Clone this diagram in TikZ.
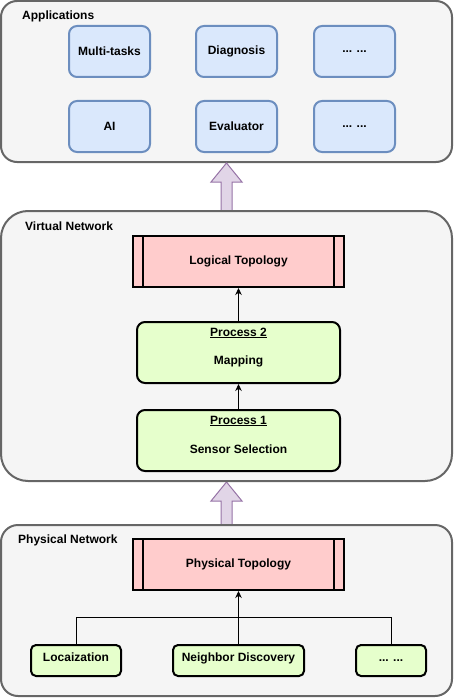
\documentclass[tikz,border=0pt]{standalone}
\usepackage{fontspec}
\setmainfont{Liberation Sans}
\usetikzlibrary{arrows.meta}

\definecolor{layerfill}{HTML}{F5F5F5}
\definecolor{layerdraw}{HTML}{666666}
\definecolor{appfill}{HTML}{DAE8FC}
\definecolor{appdraw}{HTML}{6C8EBF}
\definecolor{topofill}{HTML}{FFCCCC}
\definecolor{procfill}{HTML}{E6FFCC}
\definecolor{liftfill}{HTML}{E1D5E7}
\definecolor{liftdraw}{HTML}{9673A6}

\tikzset{
    layer/.style={draw=layerdraw, fill=layerfill, line width=2pt, inner sep=0pt, minimum width=451pt},
    layertitle/.style={anchor=west, inner sep=0pt},
    appbox/.style={draw=appdraw, fill=appfill, line width=2pt, rounded corners=8pt, minimum width=81pt, minimum height=51pt, inner sep=0pt},
    topobox/.style={draw, fill=topofill, line width=2pt, minimum width=211pt, minimum height=51pt, inner sep=0pt,
        path picture={
            \draw[line width=2pt] ([xshift=10pt]path picture bounding box.north west) -- ([xshift=10pt]path picture bounding box.south west);
            \draw[line width=2pt] ([xshift=-10pt]path picture bounding box.north east) -- ([xshift=-10pt]path picture bounding box.south east);
        }},
    procbox/.style={draw, fill=procfill, line width=2pt, rounded corners=8pt, minimum width=203pt, minimum height=61pt, inner sep=0pt},
    taskbox/.style={draw, fill=procfill, line width=2pt, rounded corners=5pt, minimum height=31pt, inner sep=0pt, text height=9pt, text depth=7pt},
    lift/.style={draw=liftdraw, fill=liftfill, line width=1pt},
    link/.style={line width=0.8pt, -{Stealth[length=7pt, width=6.5pt]}},
    wire/.style={line width=0.8pt}
}

\begin{document}
\begin{tikzpicture}[x=1pt, y=-1pt, font=\fontsize{12}{14}\selectfont\bfseries]
    \useasboundingbox (0,0) rectangle (453,698);

    % Applications
    \node[layer, minimum height=161pt, rounded corners=16pt] (apps) at (226.5, 81.5) {};
    \node[layertitle] (appstitle) at (22, 16) {Applications};
    \node[appbox] (multi) at (109.5, 51.5) {Multi-tasks};
    \node[appbox] (diag) at (236.5, 51.5) {Diagnosis};
    \node[appbox] (more1) at (354.5, 51.5) {... ...};
    \node[appbox] (ai) at (109.5, 126.5) {AI};
    \node[appbox] (eval) at (236.5, 126.5) {Evaluator};
    \node[appbox] (more2) at (354.5, 126.5) {... ...};

    % Lifting arrows between the layers
    \foreach \tip/\base in {163/211, 482/525} {
        \draw[lift] (221, \base) -- (221, \tip+19) -- (211, \tip+19) -- (226.5, \tip)
            -- (242, \tip+19) -- (232, \tip+19) -- (232, \base) -- cycle;
    }

    % Virtual Network
    \node[layer, minimum height=270pt, rounded corners=27pt] (virt) at (226.5, 346) {};
    \node[layertitle] (virttitle) at (25, 226) {Virtual Network};
    \node[topobox] (logic) at (238.5, 261.5) {Logical Topology};
    \node[procbox] (p2) at (238.5, 352.5) {};
    \node (p2title) at ([yshift=-12pt]p2.north) {\underline{Process 2}};
    \node (p2text) at ([yshift=-40pt]p2.north) {Mapping};
    \node[procbox] (p1) at (238.5, 440.5) {};
    \node (p1title) at ([yshift=-12pt]p1.north) {\underline{Process 1}};
    \node (p1text) at ([yshift=-40pt]p1.north) {Sensor Selection};
    \draw[link] (p2) -- (logic);
    \draw[link] (p1) -- (p2);

    % Physical Network
    \node[layer, minimum height=171pt, rounded corners=17pt] (phys) at (226.5, 610.5) {};
    \node[layertitle] (physttitle) at (18, 540) {Physical Network};
    \node[topobox] (phystopo) at (238.5, 564.5) {Physical Topology};
    \node[taskbox, minimum width=90pt] (loc) at (76, 660.5) {Locaization};
    \node[taskbox, minimum width=131pt] (nd) at (238.5, 660.5) {Neighbor Discovery};
    \node[taskbox, minimum width=70pt] (more3) at (391, 660.5) {... ...};
    \coordinate (join) at (238.5, 617);
    \draw[wire] (loc) |- (join);
    \draw[wire] (more3) |- (join);
    \draw[link] (nd) -- (phystopo);
\end{tikzpicture}
\end{document}
